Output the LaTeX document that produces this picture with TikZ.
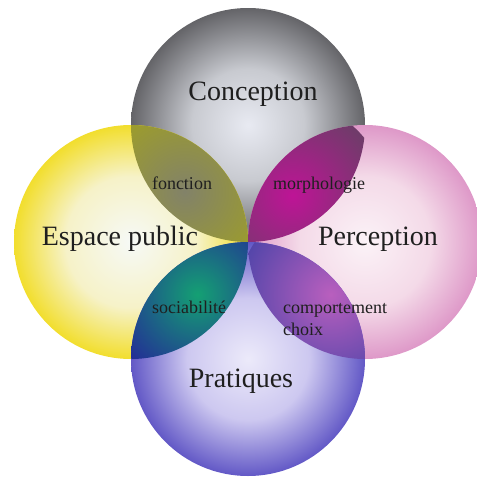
\documentclass[tikz,border=0pt]{standalone}
\usepackage{fontspec}
\setmainfont{Liberation Serif}
\usetikzlibrary{positioning}
\usetikzlibrary{calc}

\definecolor{topin}{RGB}{232,234,242}
\definecolor{topmid}{RGB}{200,202,208}
\definecolor{topout}{RGB}{100,100,104}
\definecolor{leftin}{RGB}{246,249,246}
\definecolor{leftmid}{RGB}{246,242,200}
\definecolor{leftout}{RGB}{242,222,45}
\definecolor{rightin}{RGB}{251,242,247}
\definecolor{rightmid}{RGB}{244,218,232}
\definecolor{rightout}{RGB}{222,152,200}
\definecolor{botin}{RGB}{236,234,250}
\definecolor{botmid}{RGB}{205,200,240}
\definecolor{botout}{RGB}{98,88,198}
\definecolor{fonin}{RGB}{130,130,105}
\definecolor{fonout}{RGB}{158,158,40}
\definecolor{morin}{RGB}{190,20,150}
\definecolor{morout}{RGB}{110,60,105}
\definecolor{socin}{RGB}{20,160,115}
\definecolor{socout}{RGB}{35,45,150}
\definecolor{comin}{RGB}{185,95,190}
\definecolor{comout}{RGB}{85,70,170}

% soft discs: pale core, colour kept for the rim
\pgfdeclareradialshading{shtop}{\pgfpoint{0bp}{0bp}}{color(0bp)=(topin); color(12bp)=(topmid); color(25bp)=(topout); color(50bp)=(topout)}
\pgfdeclareradialshading{shleft}{\pgfpoint{0bp}{0bp}}{color(0bp)=(leftin); color(14bp)=(leftmid); color(25bp)=(leftout); color(50bp)=(leftout)}
\pgfdeclareradialshading{shright}{\pgfpoint{0bp}{0bp}}{color(0bp)=(rightin); color(14bp)=(rightmid); color(25bp)=(rightout); color(50bp)=(rightout)}
\pgfdeclareradialshading{shbot}{\pgfpoint{0bp}{0bp}}{color(0bp)=(botin); color(13bp)=(botmid); color(25bp)=(botout); color(50bp)=(botout)}

\tikzset{
  bigtxt/.style={anchor=base, inner sep=0pt, text=black!88,
    font=\fontsize{28}{30}\selectfont},
  smalltxt/.style={anchor=base, inner sep=0pt, text=black!88,
    font=\fontsize{18}{20}\selectfont},
}

\begin{document}
\begin{tikzpicture}[x=1pt, y=-1pt]

  \useasboundingbox (0,0) rectangle (477,480);

  \def\r{117pt};

  \coordinate (m) at (248,242);
  \coordinate (ctop) at (248,125);
  \coordinate (cleft) at (131,242);
  \coordinate (cright) at (365,242);
  \coordinate (cbot) at (248,359);

  % the four discs
  \foreach \c/\sh in {ctop/shtop, cleft/shleft, cright/shright, cbot/shbot}{
    \shade[shading=\sh] (\c) circle (\r);
  }

  % overlaps
  \foreach \a/\b/\ci/\co/\dx/\dy in {ctop/cleft/fonin/fonout/-5/8,
                                     ctop/cright/morin/morout/-14/12,
                                     cbot/cleft/socin/socout/8/-6,
                                     cbot/cright/comin/comout/24/-6}{
    \begin{scope}
      \clip (\a) circle (\r);
      \clip (\b) circle (\r);
      \shade[inner color=\ci, outer color=\co] ($(\a)!0.5!(\b) + (\dx,\dy)$) circle (92pt);
    \end{scope}
  }

  \node[bigtxt] (conc) at (253,100) {Conception};
  \node[bigtxt] (esp) at (120,245) {Espace public};
  \node[bigtxt] (perc) at (378,245) {Perception};
  \node[bigtxt] (prat) at (241,387) {Pratiques};

  \node[smalltxt] (fonc) at (182,189) {fonction};
  \node[smalltxt] (morph) at (319,189) {morphologie};
  \node[smalltxt] (soc) at (189,313) {sociabilité};
  \node[smalltxt, anchor=base west] (comp) at (283,313) {comportement};
  \node[smalltxt, anchor=base west] (choix) at (283,335) {choix};

\end{tikzpicture}
\end{document}
